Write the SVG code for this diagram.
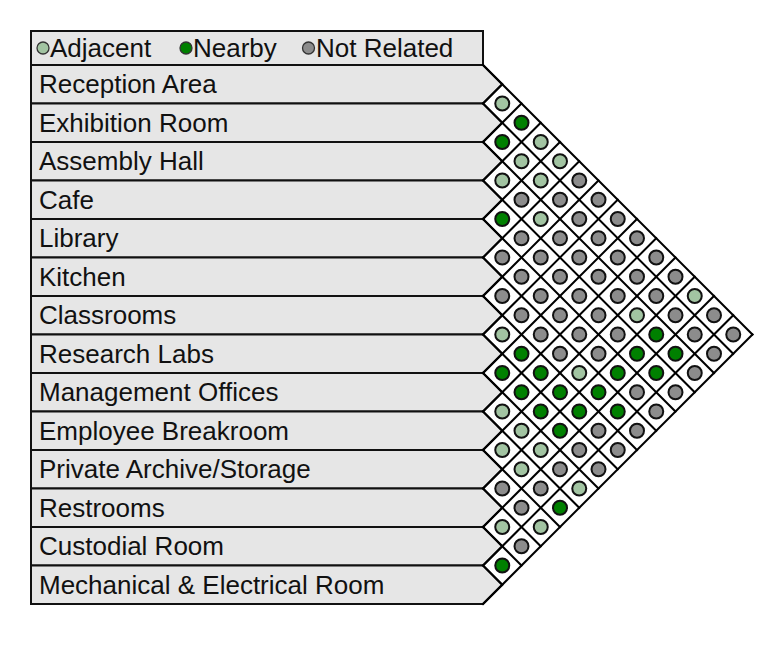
<svg xmlns="http://www.w3.org/2000/svg" width="768" height="667" viewBox="0 0 768 667">
<style>
.box{fill:#e6e6e6;stroke:#111;stroke-width:2;stroke-linejoin:miter}
.lbl{font-family:"Liberation Sans",Arial,sans-serif;font-size:26px;fill:#111}
.grid line{stroke:#000;stroke-width:2;stroke-linecap:square}
.cells circle{stroke:#111;stroke-width:2}
.a{fill:#a2c4a2}
.n{fill:#008000}
.g{fill:#8c8c8c}
.leg circle{stroke:#333;stroke-width:1.3}
</style>
<rect x="0" y="0" width="768" height="667" fill="#fff"/>
<g id="legend" class="leg">
<rect class="box" x="31" y="31" width="452" height="34"/>
<circle class="a" cx="43" cy="48" r="6"/>
<text class="lbl" x="50" y="57">Adjacent</text>
<circle class="n" cx="186" cy="48" r="6"/>
<text class="lbl" x="193" y="57">Nearby</text>
<circle class="g" cx="308.5" cy="48" r="6"/>
<text class="lbl" x="316" y="57">Not Related</text>
</g>
<g id="row0"><polygon class="box" points="31,65 483,65 502.25,84.25 483,103.5 31,103.5"/><text class="lbl" x="39" y="93.3">Reception Area</text></g>
<g id="row1"><polygon class="box" points="31,103.5 483,103.5 502.25,122.75 483,142 31,142"/><text class="lbl" x="39" y="131.8">Exhibition Room</text></g>
<g id="row2"><polygon class="box" points="31,142 483,142 502.25,161.25 483,180.5 31,180.5"/><text class="lbl" x="39" y="170.3">Assembly Hall</text></g>
<g id="row3"><polygon class="box" points="31,180.5 483,180.5 502.25,199.75 483,219 31,219"/><text class="lbl" x="39" y="208.8">Cafe</text></g>
<g id="row4"><polygon class="box" points="31,219 483,219 502.25,238.25 483,257.5 31,257.5"/><text class="lbl" x="39" y="247.3">Library</text></g>
<g id="row5"><polygon class="box" points="31,257.5 483,257.5 502.25,276.75 483,296 31,296"/><text class="lbl" x="39" y="285.8">Kitchen</text></g>
<g id="row6"><polygon class="box" points="31,296 483,296 502.25,315.25 483,334.5 31,334.5"/><text class="lbl" x="39" y="324.3">Classrooms</text></g>
<g id="row7"><polygon class="box" points="31,334.5 483,334.5 502.25,353.75 483,373 31,373"/><text class="lbl" x="39" y="362.8">Research Labs</text></g>
<g id="row8"><polygon class="box" points="31,373 483,373 502.25,392.25 483,411.5 31,411.5"/><text class="lbl" x="39" y="401.3">Management Offices</text></g>
<g id="row9"><polygon class="box" points="31,411.5 483,411.5 502.25,430.75 483,450 31,450"/><text class="lbl" x="39" y="439.8">Employee Breakroom</text></g>
<g id="row10"><polygon class="box" points="31,450 483,450 502.25,469.25 483,488.5 31,488.5"/><text class="lbl" x="39" y="478.3">Private Archive/Storage</text></g>
<g id="row11"><polygon class="box" points="31,488.5 483,488.5 502.25,507.75 483,527 31,527"/><text class="lbl" x="39" y="516.8">Restrooms</text></g>
<g id="row12"><polygon class="box" points="31,527 483,527 502.25,546.25 483,565.5 31,565.5"/><text class="lbl" x="39" y="555.3">Custodial Room</text></g>
<g id="row13"><polygon class="box" points="31,565.5 483,565.5 502.25,584.75 483,604 31,604"/><text class="lbl" x="39" y="593.8">Mechanical &amp; Electrical Room</text></g>
<g id="cells" class="cells">
<circle class="a" cx="502.25" cy="103.5" r="7"/>
<circle class="n" cx="521.5" cy="122.75" r="7"/>
<circle class="n" cx="502.25" cy="142" r="7"/>
<circle class="a" cx="540.75" cy="142" r="7"/>
<circle class="a" cx="521.5" cy="161.25" r="7"/>
<circle class="a" cx="560" cy="161.25" r="7"/>
<circle class="a" cx="502.25" cy="180.5" r="7"/>
<circle class="a" cx="540.75" cy="180.5" r="7"/>
<circle class="g" cx="579.25" cy="180.5" r="7"/>
<circle class="g" cx="521.5" cy="199.75" r="7"/>
<circle class="g" cx="560" cy="199.75" r="7"/>
<circle class="g" cx="598.5" cy="199.75" r="7"/>
<circle class="n" cx="502.25" cy="219" r="7"/>
<circle class="a" cx="540.75" cy="219" r="7"/>
<circle class="g" cx="579.25" cy="219" r="7"/>
<circle class="g" cx="617.75" cy="219" r="7"/>
<circle class="g" cx="521.5" cy="238.25" r="7"/>
<circle class="g" cx="560" cy="238.25" r="7"/>
<circle class="g" cx="598.5" cy="238.25" r="7"/>
<circle class="g" cx="637" cy="238.25" r="7"/>
<circle class="g" cx="502.25" cy="257.5" r="7"/>
<circle class="g" cx="540.75" cy="257.5" r="7"/>
<circle class="g" cx="579.25" cy="257.5" r="7"/>
<circle class="g" cx="617.75" cy="257.5" r="7"/>
<circle class="g" cx="656.25" cy="257.5" r="7"/>
<circle class="g" cx="521.5" cy="276.75" r="7"/>
<circle class="g" cx="560" cy="276.75" r="7"/>
<circle class="g" cx="598.5" cy="276.75" r="7"/>
<circle class="g" cx="637" cy="276.75" r="7"/>
<circle class="g" cx="675.5" cy="276.75" r="7"/>
<circle class="g" cx="502.25" cy="296" r="7"/>
<circle class="g" cx="540.75" cy="296" r="7"/>
<circle class="g" cx="579.25" cy="296" r="7"/>
<circle class="g" cx="617.75" cy="296" r="7"/>
<circle class="g" cx="656.25" cy="296" r="7"/>
<circle class="a" cx="694.75" cy="296" r="7"/>
<circle class="g" cx="521.5" cy="315.25" r="7"/>
<circle class="g" cx="560" cy="315.25" r="7"/>
<circle class="g" cx="598.5" cy="315.25" r="7"/>
<circle class="a" cx="637" cy="315.25" r="7"/>
<circle class="g" cx="675.5" cy="315.25" r="7"/>
<circle class="g" cx="714" cy="315.25" r="7"/>
<circle class="a" cx="502.25" cy="334.5" r="7"/>
<circle class="g" cx="540.75" cy="334.5" r="7"/>
<circle class="g" cx="579.25" cy="334.5" r="7"/>
<circle class="g" cx="617.75" cy="334.5" r="7"/>
<circle class="n" cx="656.25" cy="334.5" r="7"/>
<circle class="g" cx="694.75" cy="334.5" r="7"/>
<circle class="g" cx="733.25" cy="334.5" r="7"/>
<circle class="n" cx="521.5" cy="353.75" r="7"/>
<circle class="g" cx="560" cy="353.75" r="7"/>
<circle class="g" cx="598.5" cy="353.75" r="7"/>
<circle class="n" cx="637" cy="353.75" r="7"/>
<circle class="n" cx="675.5" cy="353.75" r="7"/>
<circle class="g" cx="714" cy="353.75" r="7"/>
<circle class="n" cx="502.25" cy="373" r="7"/>
<circle class="n" cx="540.75" cy="373" r="7"/>
<circle class="a" cx="579.25" cy="373" r="7"/>
<circle class="n" cx="617.75" cy="373" r="7"/>
<circle class="n" cx="656.25" cy="373" r="7"/>
<circle class="g" cx="694.75" cy="373" r="7"/>
<circle class="n" cx="521.5" cy="392.25" r="7"/>
<circle class="n" cx="560" cy="392.25" r="7"/>
<circle class="n" cx="598.5" cy="392.25" r="7"/>
<circle class="g" cx="637" cy="392.25" r="7"/>
<circle class="g" cx="675.5" cy="392.25" r="7"/>
<circle class="a" cx="502.25" cy="411.5" r="7"/>
<circle class="n" cx="540.75" cy="411.5" r="7"/>
<circle class="n" cx="579.25" cy="411.5" r="7"/>
<circle class="n" cx="617.75" cy="411.5" r="7"/>
<circle class="g" cx="656.25" cy="411.5" r="7"/>
<circle class="a" cx="521.5" cy="430.75" r="7"/>
<circle class="n" cx="560" cy="430.75" r="7"/>
<circle class="g" cx="598.5" cy="430.75" r="7"/>
<circle class="g" cx="637" cy="430.75" r="7"/>
<circle class="a" cx="502.25" cy="450" r="7"/>
<circle class="a" cx="540.75" cy="450" r="7"/>
<circle class="g" cx="579.25" cy="450" r="7"/>
<circle class="g" cx="617.75" cy="450" r="7"/>
<circle class="a" cx="521.5" cy="469.25" r="7"/>
<circle class="g" cx="560" cy="469.25" r="7"/>
<circle class="g" cx="598.5" cy="469.25" r="7"/>
<circle class="g" cx="502.25" cy="488.5" r="7"/>
<circle class="g" cx="540.75" cy="488.5" r="7"/>
<circle class="a" cx="579.25" cy="488.5" r="7"/>
<circle class="g" cx="521.5" cy="507.75" r="7"/>
<circle class="n" cx="560" cy="507.75" r="7"/>
<circle class="a" cx="502.25" cy="527" r="7"/>
<circle class="a" cx="540.75" cy="527" r="7"/>
<circle class="g" cx="521.5" cy="546.25" r="7"/>
<circle class="n" cx="502.25" cy="565.5" r="7"/>
</g>
<g id="connectors" class="grid">
<line x1="483" y1="65" x2="752.5" y2="334.5"/>
<line x1="483" y1="103.5" x2="733.25" y2="353.75"/>
<line x1="483" y1="142" x2="714" y2="373"/>
<line x1="483" y1="180.5" x2="694.75" y2="392.25"/>
<line x1="483" y1="219" x2="675.5" y2="411.5"/>
<line x1="483" y1="257.5" x2="656.25" y2="430.75"/>
<line x1="483" y1="296" x2="637" y2="450"/>
<line x1="483" y1="334.5" x2="617.75" y2="469.25"/>
<line x1="483" y1="373" x2="598.5" y2="488.5"/>
<line x1="483" y1="411.5" x2="579.25" y2="507.75"/>
<line x1="483" y1="450" x2="560" y2="527"/>
<line x1="483" y1="488.5" x2="540.75" y2="546.25"/>
<line x1="483" y1="527" x2="521.5" y2="565.5"/>
<line x1="483" y1="565.5" x2="502.25" y2="584.75"/>
<line x1="483" y1="103.5" x2="502.25" y2="84.25"/>
<line x1="483" y1="142" x2="521.5" y2="103.5"/>
<line x1="483" y1="180.5" x2="540.75" y2="122.75"/>
<line x1="483" y1="219" x2="560" y2="142"/>
<line x1="483" y1="257.5" x2="579.25" y2="161.25"/>
<line x1="483" y1="296" x2="598.5" y2="180.5"/>
<line x1="483" y1="334.5" x2="617.75" y2="199.75"/>
<line x1="483" y1="373" x2="637" y2="219"/>
<line x1="483" y1="411.5" x2="656.25" y2="238.25"/>
<line x1="483" y1="450" x2="675.5" y2="257.5"/>
<line x1="483" y1="488.5" x2="694.75" y2="276.75"/>
<line x1="483" y1="527" x2="714" y2="296"/>
<line x1="483" y1="565.5" x2="733.25" y2="315.25"/>
<line x1="483" y1="604" x2="752.5" y2="334.5"/>
</g>
</svg>
